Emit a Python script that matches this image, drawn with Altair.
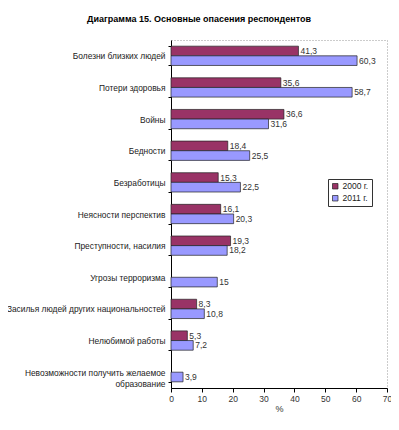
import altair as alt
import pandas as pd

categories = [
    "Болезни близких людей",
    "Потери здоровья",
    "Войны",
    "Бедности",
    "Безработицы",
    "Неясности перспектив",
    "Преступности, насилия",
    "Угрозы терроризма",
    "Засилья людей других национальностей",
    "Нелюбимой работы",
    "Невозможности получить желаемое образование",
]
values_2000 = [41.3, 35.6, 36.6, 18.4, 15.3, 16.1, 19.3, None, 8.3, 5.3, None]
values_2011 = [60.3, 58.7, 31.6, 25.5, 22.5, 20.3, 18.2, 15, 10.8, 7.2, 3.9]
series = ["2000 г.", "2011 г."]
colors = ["#993366", "#9999FF"]
x_ticks = [0, 10, 20, 30, 40, 50, 60, 70]


def fmt(v):
    if v == int(v):
        return str(int(v))
    return f"{v:.1f}".replace(".", ",")


rows = []
for c, a, b in zip(categories, values_2000, values_2011):
    if a is not None:
        rows.append({"cat": c, "series": series[0], "value": a, "label": fmt(a)})
    rows.append({"cat": c, "series": series[1], "value": b, "label": fmt(b)})
df = pd.DataFrame(rows)

font = "Liberation Sans"

y_enc = alt.Y(
    "cat:N",
    sort=categories,
    scale=alt.Scale(paddingInner=0.39, paddingOuter=0.195),
    axis=alt.Axis(
        title=None,
        labelFontSize=8.4,
        labelColor="#222",
        labelFont=font,
        tickBand="extent",
        tickSize=3,
        tickColor="#000",
        domainColor="#000",
        labelPadding=3,
        labelLimit=0,
        labelExpr="datum.label == 'Невозможности получить желаемое образование' ? ['Невозможности получить желаемое', 'образование'] : datum.label",
        labelLineHeight=11,
    ),
)
x_enc = alt.X(
    "value:Q",
    scale=alt.Scale(domain=[0, 70], nice=False, zero=True),
    axis=alt.Axis(
        title="%",
        values=x_ticks,
        tickCount=8,
        grid=False,
        labelOverlap=False,
        labelFlush=False,
        labelFontSize=8.5,
        labelColor="#333",
        labelFont=font,
        labelPadding=2,
        titleFont=font,
        titleFontSize=9,
        titleFontWeight="normal",
        titleColor="#333",
        tickSize=4,
        tickColor="#000",
        domainColor="#000",
        titlePadding=2,
    ),
)

base = alt.Chart(df).encode(
    x=x_enc,
    y=y_enc,
    yOffset=alt.YOffset("series:N", sort=series),
)

bars = base.mark_bar(stroke="#222", strokeWidth=0.7).encode(
    color=alt.Color(
        "series:N",
        sort=series,
        scale=alt.Scale(domain=series, range=colors),
        legend=alt.Legend(
            title=None,
            orient="none",
            legendX=157,
            legendY=139,
            symbolType="square",
            symbolSize=30,
            symbolStrokeColor="#222",
            symbolStrokeWidth=0.7,
            labelFontSize=8.5,
            labelFont=font,
            labelColor="#222",
            labelOffset=3,
            strokeColor="#333",
            padding=3,
            rowPadding=3,
            fillColor="white",
        ),
    ),
)

texts = base.mark_text(
    align="left", baseline="middle", dx=2, fontSize=8.5, font=font, color="#333"
).encode(text="label:N")

chart = (
    alt.layer(bars, texts)
    .properties(
        width=216,
        height=348,
        autosize=alt.AutoSizeParams(type="none"),
        padding={"left": 163, "top": 32, "right": 4, "bottom": 27},
        title=alt.Title(
            "Диаграмма 15. Основные опасения респондентов",
            fontSize=9,
            fontWeight="bold",
            font=font,
            color="#000",
            anchor="middle",
            frame="bounds",
            offset=12,
        ),
    )
    .configure_view(stroke="#999", strokeDash=[1, 2], strokeWidth=1)
)

chart.save("out.html", embed_options={"renderer": "svg", "actions": False})
